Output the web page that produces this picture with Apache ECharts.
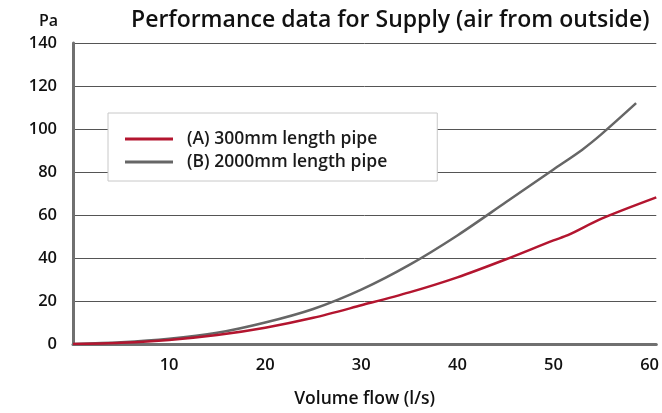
<!DOCTYPE html>
<html>
<head>
<meta charset="utf-8">
<script src="https://cdn.jsdelivr.net/npm/echarts@6/dist/echarts.min.js"></script>
<style>
  html, body { margin: 0; padding: 0; background: #fff; }
  #chart { width: 662px; height: 413px; }
</style>
</head>
<body>
<div id="chart"></div>
<script>
// Volume flow (l/s) and pressure drop (Pa) for the two pipe lengths
const flowA = [0, 5, 10, 15, 20, 25, 30, 35, 40, 45, 50, 51.5, 55, 60.7];
const pressureA = [0, 0.6, 1.9, 4.2, 7.6, 12.2, 18.0, 24.0, 31.0, 39.3, 48.2, 50.6, 58.3, 68.2];

const flowB = [0, 5, 10, 15, 20, 25, 30, 35, 40, 45, 50, 53, 55, 58.6];
const pressureB = [0, 0.8, 2.4, 5.2, 10.0, 16.3, 25.3, 36.8, 50.5, 65.8, 81.2, 90.4, 97.6, 112.0];

const seriesNames = ['(A) 300mm length pipe', '(B) 2000mm length pipe'];
const xTicks = [10, 20, 30, 40, 50, 60];
const yTicks = [0, 20, 40, 60, 80, 100, 120, 140];

const FONT = '"Open Sans", Roboto, sans-serif';
const chart = echarts.init(document.getElementById('chart'));

const pairs = (xs, ys) => xs.map((x, i) => [x, ys[i]]);

chart.setOption({
  animation: false,
  backgroundColor: '#ffffff',
  title: [
    {
      text: 'Performance data for Supply (air from outside)',
      left: 126, top: 4,
      textStyle: { fontFamily: FONT, fontSize: 23, fontWeight: 600, color: '#111' }
    },
    {
      text: 'Pa',
      left: 34, top: 8,
      textStyle: { fontFamily: FONT, fontSize: 16, fontWeight: 600, color: '#111' }
    }
  ],
  legend: {
    orient: 'vertical',
    left: 108, top: 113,
    padding: [17, 50, 10, 17],
    itemGap: 5,
    itemWidth: 48,
    itemHeight: 3,
    icon: 'rect',
    backgroundColor: '#fff',
    borderColor: '#c8c8c8',
    borderWidth: 1,
    textStyle: {
      fontFamily: FONT, fontSize: 17.5, fontWeight: 600, color: '#1a1a1a',
      padding: [0, 0, 0, 9], lineHeight: 18
    },
    data: seriesNames
  },
  grid: { left: 73, right: 4, top: 43, bottom: 66, containLabel: false },
  xAxis: {
    type: 'value',
    min: 0, max: 60.7, interval: 10,
    name: 'Volume flow (l/s)',
    nameLocation: 'middle',
    nameGap: 46,
    nameTextStyle: { fontFamily: FONT, fontSize: 17.5, fontWeight: 600, color: '#111' },
    axisLine: { show: true, lineStyle: { color: '#707070', width: 3 } },
    axisTick: { show: false },
    splitLine: { show: false },
    axisLabel: {
      margin: 13,
      fontFamily: FONT, fontSize: 16.5, fontWeight: 600, color: '#111',
      formatter: v => (xTicks.includes(v) ? String(v) : '')
    }
  },
  yAxis: {
    type: 'value',
    min: yTicks[0], max: yTicks[yTicks.length - 1], interval: 20,
    axisLine: { show: true, lineStyle: { color: '#707070', width: 3 } },
    axisTick: { show: false },
    splitLine: { show: true, lineStyle: { color: '#555', width: 1 } },
    axisLabel: {
      margin: 16,
      fontFamily: FONT, fontSize: 16.5, fontWeight: 600, color: '#111'
    }
  },
  series: [
    {
      name: seriesNames[0],
      type: 'line',
      data: pairs(flowA, pressureA),
      smooth: 0.3,
      symbol: 'none',
      z: 3,
      lineStyle: { color: '#b3152f', width: 2.5 },
      itemStyle: { color: '#b3152f' }
    },
    {
      name: seriesNames[1],
      type: 'line',
      data: pairs(flowB, pressureB),
      smooth: 0.3,
      symbol: 'none',
      z: 2,
      lineStyle: { color: '#666666', width: 2.5 },
      itemStyle: { color: '#666666' }
    }
  ]
});
</script>
</body>
</html>
